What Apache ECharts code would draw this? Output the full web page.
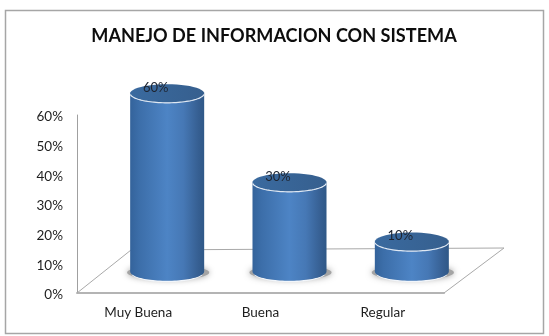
<!DOCTYPE html>
<html>
<head>
<meta charset="utf-8">
<style>html,body{margin:0;padding:0;background:#fff}#chart{width:549px;height:336px}</style>
<script src="https://cdn.jsdelivr.net/npm/echarts@6/dist/echarts.min.js"></script>
</head>
<body>
<div id="chart"></div>
<script>
const categories = ['Muy Buena', 'Buena', 'Regular'];
const percentages = [60, 30, 10];
const axisMax = 60;
const axisStep = 10;
const chartTitle = 'MANEJO DE INFORMACION CON SISTEMA';

// Pseudo-3D floor: how far the back edge sits from the front edge, in pixels.
const floorDepth = { x: 60, y: -45 };
// Cylinders stand midway across the floor.
const barShift = { x: 29, y: -21.5 };
const capRadiusY = 9.3;
const barWidthRatio = 0.605;

const fontFamily = 'Lato, "Noto Sans", sans-serif';

// Points along an ellipse between two angles (radians, clockwise on screen from +x).
function arcPoints(cx, cy, rx, ry, from, to) {
  const pts = [];
  const n = 48;
  for (let k = 0; k <= n; k++) {
    const a = from + (to - from) * k / n;
    pts.push([cx + rx * Math.cos(a), cy + ry * Math.sin(a)]);
  }
  return pts;
}

function renderFloor(params) {
  const c = params.coordSys;
  const fx0 = c.x, fx1 = c.x + c.width, fy = c.y + c.height;
  return {
    type: 'polyline',
    shape: { points: [
      [fx0, fy],
      [fx0 + floorDepth.x - 6, fy + floorDepth.y + 2],
      [fx1 + floorDepth.x, fy + floorDepth.y],
      [fx1, fy]
    ] },
    style: { stroke: '#a9a9a9', lineWidth: 1, fill: null },
    silent: true
  };
}

function renderCylinder(params, api) {
  const idx = api.value(0);
  const top = api.coord([idx, api.value(1)]);
  const base = api.coord([idx, 0]);
  const rx = api.size([1, 0])[0] * barWidthRatio / 2;
  const ry = capRadiusY;
  const cx = base[0] + barShift.x;
  const by = base[1] + barShift.y;
  const ty = top[1] + barShift.y;
  const PI = Math.PI;

  const body = [[cx - rx, ty]]
    .concat([[cx - rx, by]])
    .concat(arcPoints(cx, by, rx, ry, PI, 0))
    .concat([[cx + rx, ty]])
    .concat(arcPoints(cx, ty, rx, ry, 0, PI));

  return {
    type: 'group',
    children: [
      {
        type: 'polygon',
        shape: { points: arcPoints(cx + 1, by + 1, rx + 4, ry - 2, 0, 2 * PI) },
        style: { fill: '#a4a4a4', shadowBlur: 6, shadowColor: '#a0a0a0' }
      },
      {
        type: 'polyline',
        shape: { points: arcPoints(cx, by + 0.6, rx - 1, ry, PI * 0.92, PI * 0.08) },
        style: { stroke: '#f2f6fb', lineWidth: 1.4, fill: null }
      },
      {
        type: 'polygon',
        shape: { points: body },
        style: {
          fill: new echarts.graphic.LinearGradient(0, 0, 1, 0, [
            { offset: 0, color: '#34639b' },
            { offset: 0.12, color: '#3c6ea9' },
            { offset: 0.5, color: '#4d84c5' },
            { offset: 0.72, color: '#4678b5' },
            { offset: 0.92, color: '#365f92' },
            { offset: 1, color: '#2f5887' }
          ])
        }
      },
      {
        type: 'polygon',
        shape: { points: arcPoints(cx, ty, rx, ry, 0, 2 * PI) },
        style: {
          fill: new echarts.graphic.LinearGradient(0, 0, 1, 0, [
            { offset: 0, color: '#3a6a9f' },
            { offset: 1, color: '#365f8e' }
          ])
        }
      },
      {
        type: 'polyline',
        shape: { points: arcPoints(cx, ty, rx, ry, PI * 0.96, PI * 0.04) },
        style: { stroke: '#dfe8f3', lineWidth: 1.2, fill: null }
      },
      {
        type: 'text',
        style: {
          x: cx - 11.5,
          y: ty - 6,
          text: api.value(1) + '%',
          fill: '#1e2430',
          font: '13px ' + fontFamily,
          align: 'center',
          verticalAlign: 'middle'
        }
      }
    ]
  };
}

const chart = echarts.init(document.getElementById('chart'), null, { renderer: 'canvas' });
chart.setOption({
  animation: false,
  backgroundColor: '#ffffff',
  graphic: [{
    type: 'rect',
    silent: true,
    z: -10,
    shape: { x: 5.5, y: 10.5, width: 538, height: 323 },
    style: { fill: '#ffffff', stroke: '#a6a6a6', lineWidth: 1.5 }
  }],
  title: {
    text: chartTitle,
    left: 269,
    top: 22,
    textAlign: 'center',
    textStyle: { fontFamily, fontWeight: 'bold', fontSize: 18.1, color: '#0d0d0d' }
  },
  grid: { left: 77, top: 115, width: 367, height: 178 },
  xAxis: {
    type: 'category',
    data: categories,
    axisTick: { show: false },
    axisLine: { lineStyle: { color: '#b4b4b4', width: 2 } },
    axisLabel: { color: '#1e1e1e', fontFamily, fontSize: 13.5, margin: 13 }
  },
  yAxis: {
    type: 'value',
    min: 0,
    max: axisMax,
    interval: axisStep,
    splitLine: { show: false },
    axisTick: { show: false },
    axisLine: { show: true, lineStyle: { color: '#a0a0a0', width: 1 } },
    axisLabel: { color: '#1e1e1e', fontFamily, fontSize: 13.5, margin: 14, verticalAlign: 'top', lineHeight: 4, formatter: '{value}%' }
  },
  series: [
    {
      type: 'custom',
      silent: true,
      z: 1,
      renderItem: renderFloor,
      data: [0],
      encode: { x: 0 }
    },
    {
      type: 'custom',
      silent: true,
      z: 2,
      renderItem: renderCylinder,
      clip: false,
      data: percentages.map((v, i) => [i, v]),
      encode: { x: 0, y: 1 }
    }
  ]
});
</script>
</body>
</html>
